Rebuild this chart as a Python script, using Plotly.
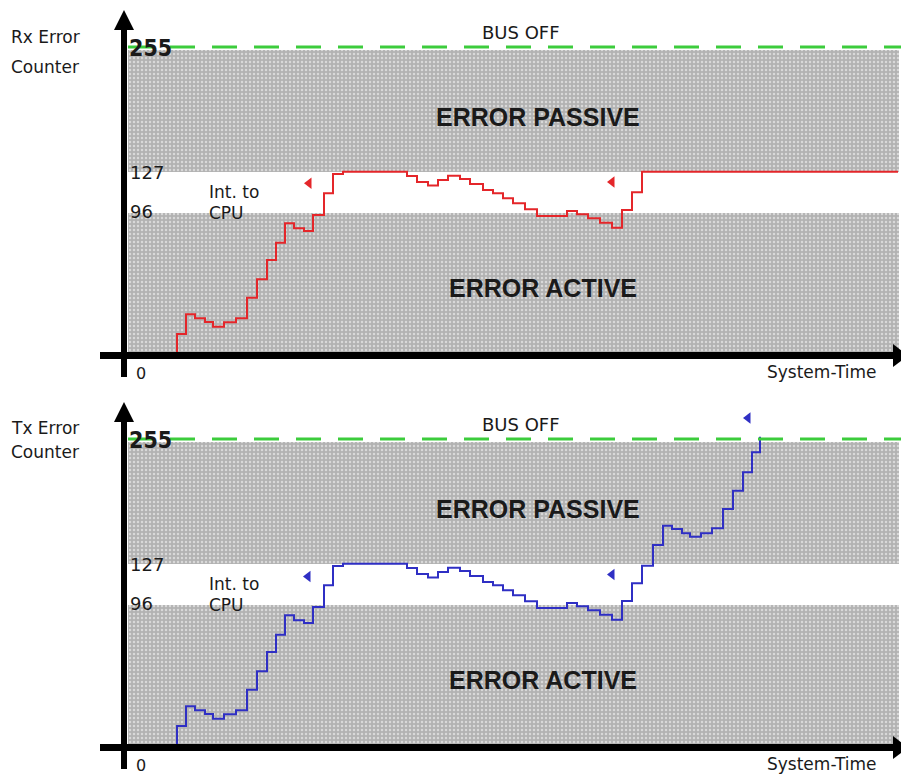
import plotly.graph_objects as go

# ---------------- data (schematic display units) ----------------
# time axis: arbitrary time units, 0 = origin of the diagram
rx_time = [5.3, 5.3, 6.2, 7.1, 8.1, 8.9, 10.0, 11.2, 12.3, 13.3, 14.3, 15.2, 16.1,
           17.0, 18.0, 18.9, 20.0, 20.9, 21.9, 28.3, 29.3, 30.4, 31.4, 32.4, 33.6,
           34.6, 35.9, 36.9, 37.9, 38.9, 40.1, 41.3, 44.3, 45.3, 46.4, 47.6, 48.8,
           49.8, 50.8, 51.8, 77.4]
rx_count = [0, 15.8, 32.3, 28.9, 25.8, 21.9, 25.6, 28.9, 46.1, 61.4, 77.5, 91.9, 108.1,
            103.9, 101.7, 115.0, 133.1, 149.2, 151.0, 147.5, 142.5, 139.6, 144.2, 147.8, 145.0,
            140.8, 135.8, 133.1, 128.9, 124.8, 119.8, 114.2, 118.3, 115.6, 112.3, 108.6, 104.4,
            119.2, 133.9, 151.0, 151.0]

tx_time = [5.3, 5.3, 6.2, 7.1, 8.1, 8.9, 10.0, 11.2, 12.3, 13.3, 14.3, 15.2, 16.1,
           17.0, 18.0, 18.9, 20.0, 20.9, 21.9, 28.3, 29.3, 30.4, 31.4, 32.4, 33.6,
           34.6, 35.9, 36.9, 37.9, 38.9, 40.1, 41.3, 44.3, 45.3, 46.4, 47.6, 48.8,
           49.8, 50.8, 51.8, 52.9, 53.9, 54.8, 55.8, 56.6, 57.7, 58.8, 59.9, 60.9,
           61.9, 62.8, 63.6]
tx_count = [0, 15.8, 32.3, 28.9, 25.8, 21.9, 25.6, 28.9, 46.1, 61.4, 77.5, 91.9, 108.1,
            103.9, 101.7, 115.0, 133.1, 149.2, 151.0, 147.5, 142.5, 139.6, 144.2, 147.8, 145.0,
            140.8, 135.8, 133.1, 128.9, 124.8, 119.8, 114.2, 118.3, 115.6, 112.3, 108.6, 104.4,
            120.0, 134.8, 149.4, 166.7, 182.8, 180.0, 176.4, 173.6, 176.4, 180.6, 196.7, 211.9,
            227.3, 243.9, 256.9]

# level positions on the (schematic) vertical scale and their labels
level_labels = ["255", "127", "96"]
level_pos = [255.0, 150.8, 116.7]
passive_zone = [150.8, 252.5]   # ERROR PASSIVE band (bottom, top)
active_zone = [0.0, 116.7]      # ERROR ACTIVE band (bottom, top)
zone_time = [0.4, 77.5]         # horizontal extent of the shaded bands

# "Int. to CPU" interrupt markers (time, level)
rx_int_time = [18.5, 48.8]
rx_int_level = [141.5, 142.5]
tx_int_time = [18.4, 48.8, 62.4]
tx_int_level = [140.5, 142.0, 272.5]

panel_titles = [["Rx Error", "Counter"], ["Tx Error", "Counter"]]
panel_title_y = [[263.3, 238.3], [264.2, 244.2]]

# ---------------- figure ----------------
# the page body adds an 8px offset, so the figure is 8px smaller on each axis
W, H = 901, 768
fig = go.Figure()

TXT = "#1a1a1a"
GRAY_PATTERN = dict(shape=".", fgcolor="white", bgcolor="#b2b2b2", size=4, solidity=0.3)


def add_panel(xa, ya, t, c, color, int_t, int_v, titles, title_y):
    # shaded zones
    for z in (passive_zone, active_zone):
        fig.add_trace(go.Scatter(
            x=[zone_time[0], zone_time[1], zone_time[1], zone_time[0], zone_time[0]],
            y=[z[0], z[0], z[1], z[1], z[0]],
            mode="lines", fill="toself", line=dict(width=0),
            fillcolor="#b2b2b2", fillpattern=GRAY_PATTERN,
            hoverinfo="skip", showlegend=False, xaxis=xa, yaxis=ya))
    # counter step line
    fig.add_trace(go.Scatter(x=t, y=c, mode="lines", line=dict(color=color, width=2, shape="hv"),
                             hoverinfo="skip", showlegend=False, xaxis=xa, yaxis=ya))
    # interrupt markers (small left-pointing arrowheads)
    fig.add_trace(go.Scatter(x=int_t, y=int_v, mode="markers",
                             marker=dict(symbol="triangle-left", size=10, color=color,
                                         line=dict(width=0)),
                             hoverinfo="skip", showlegend=False, xaxis=xa, yaxis=ya))
    # axis arrowheads
    fig.add_trace(go.Scatter(x=[0], y=[285.8], mode="markers",
                             marker=dict(symbol="arrow-up", size=20, color="black", line=dict(width=0)),
                             hoverinfo="skip", showlegend=False, xaxis=xa, yaxis=ya))
    fig.add_trace(go.Scatter(x=[77.4], y=[-2.1], mode="markers",
                             marker=dict(symbol="triangle-right", size=20, color="black", line=dict(width=0)),
                             hoverinfo="skip", showlegend=False, xaxis=xa, yaxis=ya))
    xr = xa
    yr = ya
    # BUS OFF dashed line
    fig.add_shape(type="line", xref=xr, yref=yr, x0=0.4, x1=78.1, y0=level_pos[0], y1=level_pos[0],
                  line=dict(color="#3ccc3c", width=3, dash="25px,17px"))
    # axes
    fig.add_shape(type="line", xref=xr, yref=yr, x0=-2.4, x1=77.0, y0=-2.1, y1=-2.1,
                  line=dict(color="black", width=7))
    fig.add_shape(type="line", xref=xr, yref=yr, x0=0, x1=0, y0=-20.0, y1=270.0,
                  line=dict(color="black", width=6))

    def txt(x, y, s, size=18, family="DejaVu Sans", xanchor="left", bold=False):
        fig.add_annotation(x=x, y=y, xref=xr, yref=yr, text=("<b>%s</b>" % s) if bold else s,
                           showarrow=False, xanchor=xanchor, yanchor="middle",
                           font=dict(size=size, family=family, color=TXT))

    txt(39.7, 267.5, "BUS OFF", 18, xanchor="center")
    txt(41.4, 197.0, "ERROR PASSIVE", 25, "Liberation Sans", "center", True)
    txt(41.9, 54.2, "ERROR ACTIVE", 25, "Liberation Sans", "center", True)
    txt(0.3, level_pos[0] - 1, level_labels[0], 23,
        "Liberation Sans Narrow, DejaVu Sans Condensed, Liberation Sans", bold=True)
    txt(0.4, level_pos[1], level_labels[1], 18)
    txt(0.4, level_pos[2] + 1.5, level_labels[2], 18)
    txt(8.3, 134.0, "Int. to", 17)
    txt(8.3, 117.0, "CPU", 17)
    txt(-11.5, title_y[0], titles[0], 17)
    txt(-11.5, title_y[1], titles[1], 17)
    txt(75.5, -16.2, "System-Time", 17, xanchor="right")
    txt(1.0, -17.0, "0", 16)


add_panel("x", "y", rx_time, rx_count, "#e4262a", rx_int_time, rx_int_level,
          panel_titles[0], panel_title_y[0])
add_panel("x2", "y2", tx_time, tx_count, "#2f2fc4", tx_int_time, tx_int_level,
          panel_titles[1], panel_title_y[1])

fig.update_layout(
    width=W, height=H,
    margin=dict(l=0, r=0, t=0, b=0),
    paper_bgcolor="white", plot_bgcolor="white",
    showlegend=False, hovermode=False,
    xaxis=dict(domain=[0, 1], range=[-11.6, 78.5], visible=False, fixedrange=True),
    yaxis=dict(domain=[0.5, 1], range=[-32.5, 287.5], visible=False, fixedrange=True),
    xaxis2=dict(domain=[0, 1], range=[-11.6, 78.5], visible=False, anchor="y2", fixedrange=True),
    yaxis2=dict(domain=[0, 0.5], range=[-25.83, 294.17], visible=False, anchor="x2", fixedrange=True),
)

fig.write_html("out.html", config={"displayModeBar": False})
